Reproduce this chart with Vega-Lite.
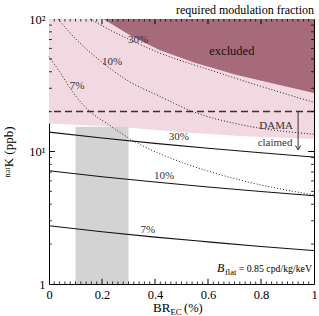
{
  "$schema": "https://vega.github.io/schema/vega-lite/v6.json",
  "width": 265,
  "height": 265,
  "autosize": {"type": "none"},
  "padding": {"left": 49, "top": 19, "right": 5, "bottom": 32},
  "config": {
    "view": {"stroke": "black", "strokeWidth": 1},
    "font": "Liberation Serif",
    "axis": {"domain": false, "grid": false, "ticks": false, "zindex": 1, "labelFont": "Liberation Serif", "titleFont": "Liberation Serif", "labelColor": "black", "titleColor": "black", "titleFontWeight": "normal", "labelOverlap": false, "labelFlush": false}
  },
  "datasets": {
    "pink": [
      {"br": 0, "lo": 16.3, "hi": 100},
      {"br": 0.2, "lo": 15.6, "hi": 100},
      {"br": 0.34, "lo": 14.9, "hi": 100},
      {"br": 0.5, "lo": 14.0, "hi": 100},
      {"br": 0.72, "lo": 13.1, "hi": 100},
      {"br": 1, "lo": 12.4, "hi": 100}
    ],
    "maroon": [
      {"br": 0.205, "lo": 100, "hi": 100},
      {"br": 0.317, "lo": 73, "hi": 100},
      {"br": 0.419, "lo": 58, "hi": 100},
      {"br": 0.55, "lo": 46.8, "hi": 100},
      {"br": 0.709, "lo": 37.8, "hi": 100},
      {"br": 0.85, "lo": 32.5, "hi": 100},
      {"br": 1, "lo": 27.6, "hi": 100}
    ],
    "grey": [{"x": 0.1, "x2": 0.3, "y": 1, "y2": 15.4}],
    "solid": [
      {"br": 0, "k": 14, "c": "s30"}, {"br": 0.2, "k": 12.64, "c": "s30"}, {"br": 0.4, "k": 11.51, "c": "s30"}, {"br": 0.6, "k": 10.57, "c": "s30"}, {"br": 0.8, "k": 9.78, "c": "s30"}, {"br": 1, "k": 9.09, "c": "s30"},
      {"br": 0, "k": 7.15, "c": "s10"}, {"br": 0.2, "k": 6.45, "c": "s10"}, {"br": 0.4, "k": 5.88, "c": "s10"}, {"br": 0.6, "k": 5.4, "c": "s10"}, {"br": 0.8, "k": 4.99, "c": "s10"}, {"br": 1, "k": 4.64, "c": "s10"},
      {"br": 0, "k": 2.75, "c": "s7"}, {"br": 0.2, "k": 2.48, "c": "s7"}, {"br": 0.4, "k": 2.26, "c": "s7"}, {"br": 0.6, "k": 2.08, "c": "s7"}, {"br": 0.8, "k": 1.92, "c": "s7"}, {"br": 1, "k": 1.79, "c": "s7"}
    ],
    "dotted": [
      {"br": 0.155, "k": 100, "c": "d30"}, {"br": 0.23, "k": 82.6, "c": "d30"}, {"br": 0.306, "k": 69.6, "c": "d30"}, {"br": 0.419, "k": 55.3, "c": "d30"}, {"br": 0.608, "k": 41.2, "c": "d30"}, {"br": 0.796, "k": 31.2, "c": "d30"}, {"br": 1, "k": 23.5, "c": "d30"},
      {"br": 0.034, "k": 100, "c": "d10"}, {"br": 0.1, "k": 71, "c": "d10"}, {"br": 0.19, "k": 49, "c": "d10"}, {"br": 0.3, "k": 34, "c": "d10"}, {"br": 0.42, "k": 26, "c": "d10"}, {"br": 0.543, "k": 20, "c": "d10"}, {"br": 0.72, "k": 16, "c": "d10"}, {"br": 1, "k": 13.5, "c": "d10"},
      {"br": 0, "k": 52, "c": "d7"}, {"br": 0.04, "k": 40, "c": "d7"}, {"br": 0.08, "k": 30, "c": "d7"}, {"br": 0.12, "k": 23.5, "c": "d7"}, {"br": 0.155, "k": 20, "c": "d7"}, {"br": 0.22, "k": 16.2, "c": "d7"}, {"br": 0.31, "k": 12.3, "c": "d7"}, {"br": 0.38, "k": 10.4, "c": "d7"}, {"br": 0.5, "k": 8.3, "c": "d7"}, {"br": 0.72, "k": 6.1, "c": "d7"}, {"br": 1, "k": 4.7, "c": "d7"}
    ],
    "labels": [
      {"br": 0.49, "k": 12.9, "t": "30%"},
      {"br": 0.434, "k": 6.53, "t": "10%"},
      {"br": 0.373, "k": 2.56, "t": "7%"},
      {"br": 0.336, "k": 69.7, "t": "30%"},
      {"br": 0.238, "k": 47.3, "t": "10%"},
      {"br": 0.106, "k": 31.2, "t": "7%"},
      {"br": 0.857, "k": 15.6, "t": "DAMA"},
      {"br": 0.853, "k": 11.6, "t": "claimed"}
    ],
    "excl": [{"br": 0.69, "k": 57.3, "t": "excluded"}],
    "xmaj": [{"v": 0.2}, {"v": 0.4}, {"v": 0.6}, {"v": 0.8}],
    "xmin": [{"v": 0.02},{"v": 0.04},{"v": 0.06},{"v": 0.08},{"v": 0.1},{"v": 0.12},{"v": 0.14},{"v": 0.16},{"v": 0.18},{"v": 0.22},{"v": 0.24},{"v": 0.26},{"v": 0.28},{"v": 0.3},{"v": 0.32},{"v": 0.34},{"v": 0.36},{"v": 0.38},{"v": 0.42},{"v": 0.44},{"v": 0.46},{"v": 0.48},{"v": 0.5},{"v": 0.52},{"v": 0.54},{"v": 0.56},{"v": 0.58},{"v": 0.62},{"v": 0.64},{"v": 0.66},{"v": 0.68},{"v": 0.7},{"v": 0.72},{"v": 0.74},{"v": 0.76},{"v": 0.78},{"v": 0.82},{"v": 0.84},{"v": 0.86},{"v": 0.88},{"v": 0.9},{"v": 0.92},{"v": 0.94},{"v": 0.96},{"v": 0.98}],
    "ymaj": [{"v": 10}],
    "ymin": [{"v": 2},{"v": 3},{"v": 4},{"v": 5},{"v": 6},{"v": 7},{"v": 8},{"v": 9},{"v": 20},{"v": 30},{"v": 40},{"v": 50},{"v": 60},{"v": 70},{"v": 80},{"v": 90}],
    "one": [{}]
  },
  "layer": [
    {
      "data": {"name": "pink"},
      "mark": {"type": "area", "color": "#f2d8e0", "opacity": 1},
      "encoding": {
        "x": {"field": "br", "type": "quantitative", "scale": {"domain": [0, 1], "nice": false, "zero": false},
          "axis": {"orient": "bottom", "title": null, "values": [0, 0.2, 0.4, 0.6, 0.8, 1],
            "labelExpr": "datum.value == 0 ? '0' : datum.value == 1 ? '1' : format(datum.value, '.1f')",
            "labelFontSize": 12.5, "labelPadding": 4}},
        "y": {"field": "lo", "type": "quantitative", "scale": {"type": "log", "domain": [1, 100], "nice": false},
          "axis": {"orient": "left", "title": "ⁿᵃᵗK (ppb)", "titleFontSize": 13, "titlePadding": 13,
            "values": [1, 10, 100],
            "labelExpr": "datum.value == 1 ? '1' : datum.value == 10 ? '10¹' : '10²'",
            "labelFontSize": 12.5, "labelPadding": 4}},
        "y2": {"field": "hi"}
      }
    },
    {
      "data": {"name": "maroon"},
      "mark": {"type": "area", "color": "#a66a7b"},
      "encoding": {
        "x": {"field": "br", "type": "quantitative", "axis": null},
        "y": {"field": "lo", "type": "quantitative", "axis": null},
        "y2": {"field": "hi"}
      }
    },
    {
      "data": {"name": "grey"},
      "mark": {"type": "rect", "color": "#d3d3d3"},
      "encoding": {
        "x": {"field": "x", "type": "quantitative", "axis": null},
        "x2": {"field": "x2"},
        "y": {"field": "y", "type": "quantitative", "axis": null},
        "y2": {"field": "y2"}
      }
    },
    {
      "data": {"name": "one"},
      "mark": {"type": "rule", "color": "#333333", "strokeWidth": 1.5, "strokeDash": [7, 4]},
      "encoding": {"y": {"datum": 20, "type": "quantitative", "axis": null}}
    },
    {
      "data": {"name": "solid"},
      "mark": {"type": "line", "color": "#111111", "strokeWidth": 1.1, "interpolate": "monotone"},
      "encoding": {
        "x": {"field": "br", "type": "quantitative", "axis": null},
        "y": {"field": "k", "type": "quantitative", "axis": null},
        "detail": {"field": "c"}
      }
    },
    {
      "data": {"name": "dotted"},
      "mark": {"type": "line", "color": "#222222", "strokeWidth": 1, "strokeDash": [1, 2], "interpolate": "monotone"},
      "encoding": {
        "x": {"field": "br", "type": "quantitative", "axis": null},
        "y": {"field": "k", "type": "quantitative", "axis": null},
        "detail": {"field": "c"}
      }
    },
    {
      "data": {"name": "xmaj"},
      "mark": {"type": "rule", "color": "black", "strokeWidth": 1},
      "encoding": {"x": {"field": "v", "type": "quantitative", "axis": null}, "y": {"datum": 1, "type": "quantitative", "axis": null}, "y2": {"datum": 1.095}}
    },
    {
      "data": {"name": "xmaj"},
      "mark": {"type": "rule", "color": "black", "strokeWidth": 1},
      "encoding": {"x": {"field": "v", "type": "quantitative", "axis": null}, "y": {"datum": 100, "type": "quantitative", "axis": null}, "y2": {"datum": 91.3}}
    },
    {
      "data": {"name": "xmin"},
      "mark": {"type": "rule", "color": "black", "strokeWidth": 0.8},
      "encoding": {"x": {"field": "v", "type": "quantitative", "axis": null}, "y": {"datum": 1, "type": "quantitative", "axis": null}, "y2": {"datum": 1.045}}
    },
    {
      "data": {"name": "xmin"},
      "mark": {"type": "rule", "color": "black", "strokeWidth": 0.8},
      "encoding": {"x": {"field": "v", "type": "quantitative", "axis": null}, "y": {"datum": 100, "type": "quantitative", "axis": null}, "y2": {"datum": 95.7}}
    },
    {
      "data": {"name": "ymaj"},
      "mark": {"type": "rule", "color": "black", "strokeWidth": 1},
      "encoding": {"y": {"field": "v", "type": "quantitative", "axis": null}, "x": {"datum": 0, "type": "quantitative", "axis": null}, "x2": {"datum": 0.022}}
    },
    {
      "data": {"name": "ymaj"},
      "mark": {"type": "rule", "color": "black", "strokeWidth": 1},
      "encoding": {"y": {"field": "v", "type": "quantitative", "axis": null}, "x": {"datum": 1, "type": "quantitative", "axis": null}, "x2": {"datum": 0.978}}
    },
    {
      "data": {"name": "ymin"},
      "mark": {"type": "rule", "color": "black", "strokeWidth": 0.8},
      "encoding": {"y": {"field": "v", "type": "quantitative", "axis": null}, "x": {"datum": 0, "type": "quantitative", "axis": null}, "x2": {"datum": 0.011}}
    },
    {
      "data": {"name": "ymin"},
      "mark": {"type": "rule", "color": "black", "strokeWidth": 0.8},
      "encoding": {"y": {"field": "v", "type": "quantitative", "axis": null}, "x": {"datum": 1, "type": "quantitative", "axis": null}, "x2": {"datum": 0.989}}
    },
    {
      "data": {"name": "labels"},
      "mark": {"type": "text", "font": "Liberation Serif", "fontSize": 11, "color": "#333333", "align": "center", "baseline": "middle"},
      "encoding": {
        "x": {"field": "br", "type": "quantitative", "axis": null},
        "y": {"field": "k", "type": "quantitative", "axis": null},
        "text": {"field": "t"}
      }
    },
    {
      "data": {"name": "excl"},
      "mark": {"type": "text", "font": "Liberation Serif", "fontSize": 12.5, "color": "#111111", "align": "center", "baseline": "middle"},
      "encoding": {
        "x": {"field": "br", "type": "quantitative", "axis": null},
        "y": {"field": "k", "type": "quantitative", "axis": null},
        "text": {"field": "t"}
      }
    },
    {
      "data": {"name": "one"},
      "mark": {"type": "rule", "color": "#333333", "strokeWidth": 1},
      "encoding": {
        "x": {"datum": 0.94, "type": "quantitative", "axis": null},
        "y": {"datum": 20, "type": "quantitative", "axis": null},
        "y2": {"datum": 10.3}
      }
    },
    {
      "data": {"name": "one"},
      "mark": {"type": "point", "shape": "M-1,-1.6L0,0L1,-1.6", "filled": false, "size": 30, "color": "#333333", "strokeWidth": 1, "opacity": 1},
      "encoding": {
        "x": {"datum": 0.94, "type": "quantitative", "axis": null},
        "y": {"datum": 10.3, "type": "quantitative", "axis": null}
      }
    },
    {
      "data": {"name": "one"},
      "mark": {"type": "text", "text": "required modulation fraction", "font": "Liberation Serif", "fontSize": 12, "align": "right", "baseline": "alphabetic", "dx": 0, "dy": -5, "color": "black"},
      "encoding": {"x": {"datum": 1, "type": "quantitative", "axis": null}, "y": {"datum": 100, "type": "quantitative", "axis": null}}
    },
    {
      "data": {"name": "one"},
      "mark": {"type": "text", "text": "B", "font": "Liberation Serif", "fontStyle": "italic", "fontSize": 12, "align": "left", "baseline": "alphabetic", "dx": -97, "dy": -12, "color": "black"},
      "encoding": {"x": {"datum": 1, "type": "quantitative", "axis": null}, "y": {"datum": 1, "type": "quantitative", "axis": null}}
    },
    {
      "data": {"name": "one"},
      "mark": {"type": "text", "text": "flat", "font": "Liberation Serif", "fontSize": 8.5, "align": "left", "baseline": "alphabetic", "dx": -89, "dy": -9.5, "color": "black"},
      "encoding": {"x": {"datum": 1, "type": "quantitative", "axis": null}, "y": {"datum": 1, "type": "quantitative", "axis": null}}
    },
    {
      "data": {"name": "one"},
      "mark": {"type": "text", "text": "= 0.85 cpd/kg/keV", "font": "Liberation Serif", "fontSize": 9.8, "align": "right", "baseline": "alphabetic", "dx": -2, "dy": -12, "color": "black"},
      "encoding": {"x": {"datum": 1, "type": "quantitative", "axis": null}, "y": {"datum": 1, "type": "quantitative", "axis": null}}
    },
    {
      "data": {"name": "one"},
      "mark": {"type": "text", "text": "BR", "font": "Liberation Serif", "fontSize": 13, "align": "left", "baseline": "alphabetic", "dx": 104, "dy": 28, "color": "black"},
      "encoding": {"x": {"datum": 0, "type": "quantitative", "axis": null}, "y": {"datum": 1, "type": "quantitative", "axis": null}}
    },
    {
      "data": {"name": "one"},
      "mark": {"type": "text", "text": "EC", "font": "Liberation Serif", "fontSize": 8.5, "align": "left", "baseline": "alphabetic", "dx": 121.5, "dy": 30.5, "color": "black"},
      "encoding": {"x": {"datum": 0, "type": "quantitative", "axis": null}, "y": {"datum": 1, "type": "quantitative", "axis": null}}
    },
    {
      "data": {"name": "one"},
      "mark": {"type": "text", "text": "(%)", "font": "Liberation Serif", "fontSize": 12.5, "align": "left", "baseline": "alphabetic", "dx": 135, "dy": 28, "color": "black"},
      "encoding": {"x": {"datum": 0, "type": "quantitative", "axis": null}, "y": {"datum": 1, "type": "quantitative", "axis": null}}
    }
  ],
  "resolve": {"axis": {"x": "independent", "y": "independent"}}
}
